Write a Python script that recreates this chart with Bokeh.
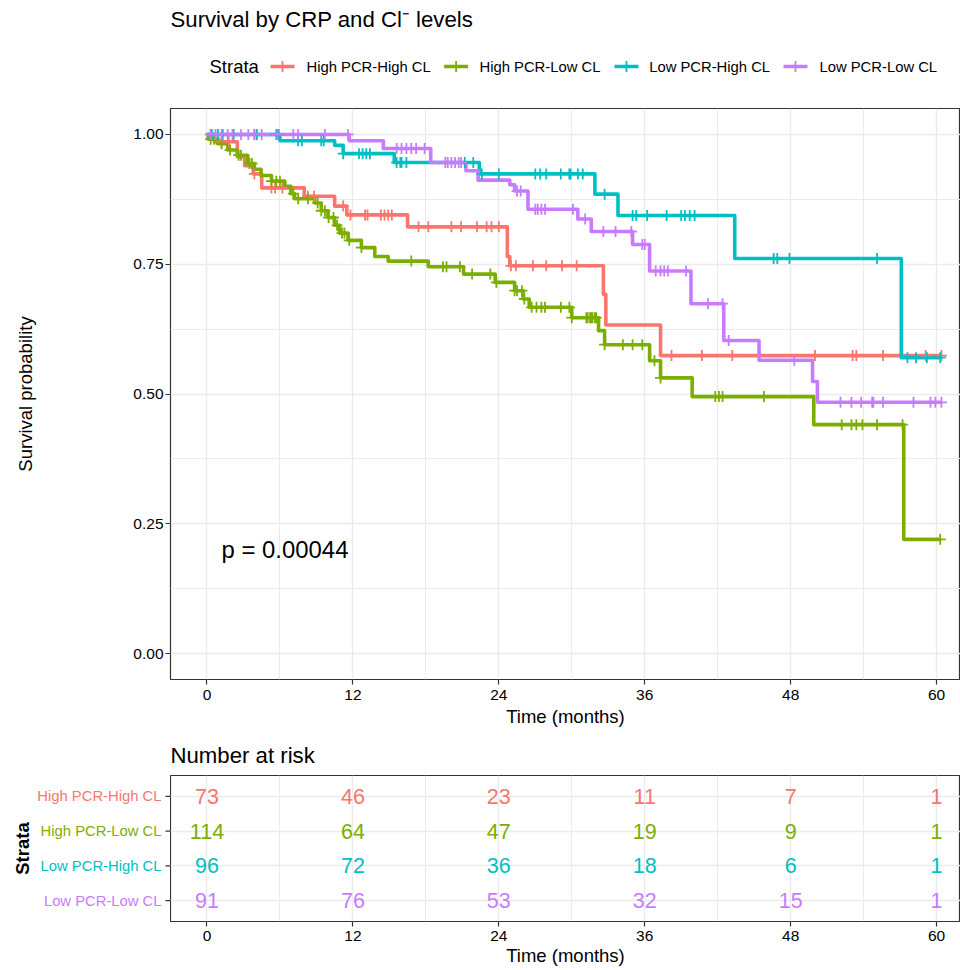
import numpy as np
from bokeh.plotting import figure
from bokeh.layouts import column, row
from bokeh.models import Range1d, FixedTicker, Label, ColumnDataSource, NumeralTickFormatter
from bokeh.core.properties import value
from bokeh.embed import file_html
from bokeh.resources import INLINE

FONT = "Liberation Sans"

# ---------------- data ----------------
strata = ["High PCR-High CL", "High PCR-Low CL", "Low PCR-High CL", "Low PCR-Low CL"]
colors = ["#F8766D", "#7CAE00", "#00BFC4", "#C77CFF"]

# High PCR-High CL : event times (months) and survival after each event
hh_times = [0.6, 2.5, 3.1, 3.8, 4.5, 8.0, 10.5, 11.5, 16.5, 24.7, 24.9, 32.6, 32.8, 37.3]
hh_surv = [0.986, 0.957, 0.940, 0.924, 0.897, 0.881, 0.862, 0.845, 0.822, 0.765, 0.747, 0.692, 0.633, 0.574]
hh_censor = [0.3, 1.2, 1.8, 3.9, 5.3, 5.6, 6.2, 8.3, 8.8, 11.2, 11.8, 13.0, 13.2, 14.3, 14.6, 14.9, 15.2,
             17.4, 18.2, 20.1, 20.9, 22.2, 23.0, 23.4, 24.0, 25.0, 25.4, 26.8, 27.9, 29.2, 30.4,
             38.2, 40.7, 43.2, 50.0, 53.1, 53.4, 55.6, 59.1, 60.4]
hh_end = 60.4

# High PCR-Low CL
hl_times = [0.1, 0.9, 1.7, 2.5, 3.35, 3.9, 4.45, 5.3, 6.4, 6.9, 7.2, 8.85, 9.4, 9.95, 10.5, 10.9, 11.6,
            12.7, 13.8, 14.9, 18.2, 21.1, 23.7, 25.3, 26.0, 26.5, 30.0, 32.2, 32.7, 36.4, 37.3, 39.9,
            49.9, 57.3]
hl_surv = [0.991, 0.982, 0.970, 0.960, 0.944, 0.933, 0.921, 0.910, 0.900, 0.886, 0.876, 0.868, 0.853,
           0.840, 0.825, 0.810, 0.796, 0.782, 0.765, 0.756, 0.745, 0.731, 0.715, 0.699, 0.683, 0.667,
           0.647, 0.622, 0.595, 0.564, 0.531, 0.495, 0.441, 0.220]
hl_censor = [0.3, 0.6, 1.2, 1.9, 2.6, 2.8, 3.5, 3.7, 5.3, 5.7, 6.0, 7.1, 7.5, 8.3, 9.1, 9.4, 9.7, 10.0,
             10.4, 10.7, 11.1, 11.3, 11.7, 12.7, 16.8, 19.4, 19.7, 20.8, 21.8, 23.3, 23.8, 25.3, 25.5,
             25.9, 26.1, 26.7, 27.1, 27.5, 27.8, 29.1, 29.8, 30.0, 31.2, 31.3, 31.5, 31.6, 31.7, 31.9,
             32.0, 32.7, 34.2, 35.0, 35.8, 36.8, 37.3, 41.8, 42.1, 42.4, 45.8, 52.2, 53.0, 53.4, 53.9,
             55.1, 57.2, 60.3]
hl_end = 60.3

# Low PCR-High CL
lh_times = [6.0, 10.5, 11.2, 15.4, 22.4, 31.9, 33.8, 43.4, 57.1]
lh_surv = [0.988, 0.979, 0.963, 0.946, 0.924, 0.885, 0.844, 0.761, 0.570]
lh_censor = [0.4, 0.9, 1.3, 2.2, 3.9, 4.1, 5.7, 5.9, 7.5, 7.8, 9.4, 9.6, 11.2, 12.5, 12.8, 13.1, 13.4,
             15.6, 15.9, 16.0, 16.4, 21.2, 21.9, 22.6, 24.0, 27.0, 27.4, 27.9, 29.1, 29.8, 29.9, 30.5,
             30.9, 32.7, 35.0, 35.3, 36.2, 37.8, 39.0, 39.3, 39.7, 40.1, 46.6, 46.9, 47.9, 55.1, 57.6,
             58.3, 59.2, 60.3]
lh_end = 60.3

# Low PCR-Low CL
ll_times = [11.7, 14.5, 18.4, 21.3, 22.3, 24.9, 25.3, 26.4, 30.5, 31.6, 35.0, 36.4, 39.8, 42.5, 45.4,
            49.8, 50.2]
ll_surv = [0.988, 0.973, 0.946, 0.930, 0.912, 0.903, 0.891, 0.856, 0.837, 0.813, 0.788, 0.737, 0.674,
           0.603, 0.565, 0.524, 0.484]
ll_censor = [0.3, 0.7, 1.2, 1.7, 2.1, 2.8, 3.4, 3.9, 4.5, 5.8, 7.1, 7.5, 9.7, 11.6, 15.6, 16.0, 16.4,
             16.8, 17.2, 17.9, 19.6, 19.8, 20.1, 20.4, 20.7, 20.9, 25.5, 25.8, 27.0, 27.2, 27.5, 27.8,
             30.1, 31.1, 32.6, 33.6, 34.9, 35.8, 36.0, 36.9, 37.3, 37.6, 37.9, 39.4, 41.2, 42.4, 42.9,
             48.3, 52.1, 53.0, 53.8, 54.7, 54.8, 55.6, 58.1, 59.5, 59.9, 60.4]
ll_end = 60.4

# Number at risk
risk_times = [0, 12, 24, 36, 48, 60]
risk_hh = [73, 46, 23, 11, 7, 1]
risk_hl = [114, 64, 47, 19, 9, 1]
risk_lh = [96, 72, 36, 18, 6, 1]
risk_ll = [91, 76, 53, 32, 15, 1]

minor_times = [6, 18, 30, 42, 54]
surv_ticks = [0.0, 0.25, 0.5, 0.75, 1.0]
surv_minor = [0.125, 0.375, 0.625, 0.875]
p_value_text = "p = 0.00044"
title_text = "Survival by CRP and Cl\u207b levels"

# ---------------- layout constants ----------------
W = 960
LEFT = 170
HDR_H, MAIN_H, TAB_H = 96, 634, 240
X_START = -3.0
PX_PER_MONTH = 12.16
X_END = X_START + (W - LEFT) / PX_PER_MONTH
BORDER = "#333333"
GRID = "#EBEBEB"
TAB_TOP, TAB_BOT = 45, 49
TICK_FS = "15.5px"


def style_axes(fig):
    fig.background_fill_color = "white"
    fig.border_fill_color = "white"
    fig.outline_line_color = BORDER
    fig.outline_line_width = 1.2
    for ax in list(fig.xaxis) + list(fig.yaxis):
        ax.axis_line_color = None
        ax.major_tick_line_color = BORDER
        ax.major_tick_line_width = 1.2
        ax.major_tick_out = 5
        ax.major_tick_in = 0
        ax.minor_tick_line_color = None
        ax.major_label_text_font = FONT
        ax.major_label_text_font_size = TICK_FS
        ax.major_label_text_color = "black"
        ax.axis_label_text_font = FONT
        ax.axis_label_text_font_size = "18.5px"
        ax.axis_label_text_font_style = "normal"
        ax.axis_label_text_color = "black"
    fig.xgrid.grid_line_color = GRID
    fig.xgrid.grid_line_width = 1.4
    fig.xgrid.minor_grid_line_color = GRID
    fig.xgrid.minor_grid_line_width = 1.0
    fig.ygrid.grid_line_color = GRID
    fig.ygrid.grid_line_width = 1.4


def blank_fig(width, height, xr, yr, **kw):
    f = figure(width=width, height=height, x_range=xr, y_range=yr, title=None,
               x_axis_type=None, y_axis_type=None, output_backend="svg", toolbar_location=None, **kw)
    f.grid.visible = False
    f.outline_line_color = None
    f.background_fill_color = "white"
    f.border_fill_color = "white"
    return f


# ---------------- header (title + legend) ----------------
hdr = blank_fig(W, HDR_H, Range1d(LEFT, W), Range1d(HDR_H, 0),
                min_border_left=LEFT, min_border_right=0, min_border_top=0, min_border_bottom=0)
hdr.text(x=[170], y=[19], text=[title_text], text_font=value(FONT), text_font_size="22.2px",
         text_baseline="middle", text_align="left", text_color="black")
hdr.text(x=[209], y=[66], text=["Strata"], text_font=value(FONT), text_font_size="18.5px",
         text_baseline="middle", text_align="left", text_color="black")
leg_glyph_x = [270, 443.6, 614, 783]
leg_text_x = [306, 479, 648.7, 819]
for gx, tx, name, col in zip(leg_glyph_x, leg_text_x, strata, colors):
    hdr.segment(x0=[gx], y0=[66], x1=[gx + 24], y1=[66], line_color=col, line_width=3.5)
    hdr.scatter(x=[gx + 12], y=[66], marker="cross", size=11, line_color=col, line_width=1.8)
    hdr.text(x=[tx], y=[66], text=[name], text_font=value(FONT), text_font_size="14.8px",
             text_baseline="middle", text_align="left", text_color="black")

# ---------------- main KM plot ----------------
p = figure(width=W, height=MAIN_H, x_range=Range1d(X_START, X_END), y_range=Range1d(-0.05, 1.05),
           title=None, output_backend="svg", toolbar_location=None,
           min_border_left=LEFT, min_border_right=0, min_border_top=12, min_border_bottom=51)
p.xaxis.ticker = FixedTicker(ticks=risk_times, minor_ticks=minor_times)
p.yaxis.ticker = FixedTicker(ticks=surv_ticks, minor_ticks=surv_minor)
p.yaxis.formatter = NumeralTickFormatter(format="0.00")
p.xaxis.axis_label = "Time (months)"
p.yaxis.axis_label = "Survival probability"
style_axes(p)
p.ygrid.minor_grid_line_color = GRID
p.ygrid.minor_grid_line_width = 1.0
p.xaxis.major_label_standoff = 5
p.xaxis.axis_label_standoff = 3
p.yaxis.major_label_standoff = 2
p.yaxis.axis_label_standoff = 94

curves = [(hh_times, hh_surv, hh_censor, hh_end),
          (hl_times, hl_surv, hl_censor, hl_end),
          (lh_times, lh_surv, lh_censor, lh_end),
          (ll_times, ll_surv, ll_censor, ll_end)]

for (tt, ss, cc, end), col in zip(curves, colors):
    xs = [0.0] + tt + [end]
    ys = [1.0] + ss + [ss[-1]]
    p.step(xs, ys, mode="after", line_color=col, line_width=3.6, line_join="round")

for (tt, ss, cc, end), col in zip(curves, colors):
    full_t = np.array([0.0] + tt)
    full_s = np.array([1.0] + ss)
    idx = np.searchsorted(full_t, np.array(cc), side="right") - 1
    p.scatter(cc, full_s[idx], marker="cross", size=11, line_color=col, line_width=1.8)

p.add_layout(Label(x=1.2, y=0.2, text=p_value_text, text_font=FONT, text_font_size="23.9px",
                   text_baseline="middle", text_align="left", text_color="black"))

# ---------------- risk table ----------------
rows = [4, 3, 2, 1]
tab_y = Range1d(0.4, 4.6)

t = figure(width=W - LEFT, height=TAB_H, x_range=Range1d(X_START, X_END), y_range=tab_y,
           title="Number at risk", y_axis_location=None, output_backend="svg", toolbar_location=None,
           min_border_left=0, min_border_right=0, min_border_top=TAB_TOP, min_border_bottom=TAB_BOT)
t.title.align = "left"
t.title.text_font = FONT
t.title.text_font_size = "22.2px"
t.title.text_font_style = "normal"
t.title.text_color = "black"
t.title.standoff = 16
t.title.offset = 0
t.xaxis.ticker = FixedTicker(ticks=risk_times, minor_ticks=minor_times)
t.ygrid.ticker = FixedTicker(ticks=rows)
t.xaxis.axis_label = "Time (months)"
style_axes(t)
t.ygrid.minor_grid_line_color = None
t.xaxis.major_label_standoff = 4
t.xaxis.axis_label_standoff = 1

rx, ry, rt, rc = [], [], [], []
for r, counts, col in zip(rows, [risk_hh, risk_hl, risk_lh, risk_ll], colors):
    for tm, n in zip(risk_times, counts):
        rx.append(tm)
        ry.append(r)
        rt.append(str(n))
        rc.append(col)
t.text(x="x", y="y", text="t", text_color="c",
       source=ColumnDataSource(dict(x=rx, y=ry, t=rt, c=rc)),
       text_font=value(FONT), text_font_size="21.5px", text_align="center", text_baseline="middle")

# left margin of the table: coloured strata names, tick marks and the "Strata" title
lab = blank_fig(LEFT, TAB_H, Range1d(0, LEFT), tab_y,
                min_border_left=0, min_border_right=0, min_border_top=TAB_TOP, min_border_bottom=TAB_BOT)
lab.text(x=[161] * 4, y=rows, text=strata, text_color=colors, text_font=value(FONT),
         text_font_size="14.8px", text_align="right", text_baseline="middle")
lab.segment(x0=[165] * 4, y0=rows, x1=[170] * 4, y1=rows, line_color=BORDER, line_width=1.2)
lab.text(x=[22], y=[2.5], text=["Strata"], angle=np.pi / 2, text_font=value(FONT),
         text_font_size="18.5px", text_font_style="bold", text_align="center",
         text_baseline="middle", text_color="black")

layout = column(hdr, p, row(lab, t))
open("out.html", "w").write(file_html(layout, INLINE, title="Survival by CRP and Cl levels"))
